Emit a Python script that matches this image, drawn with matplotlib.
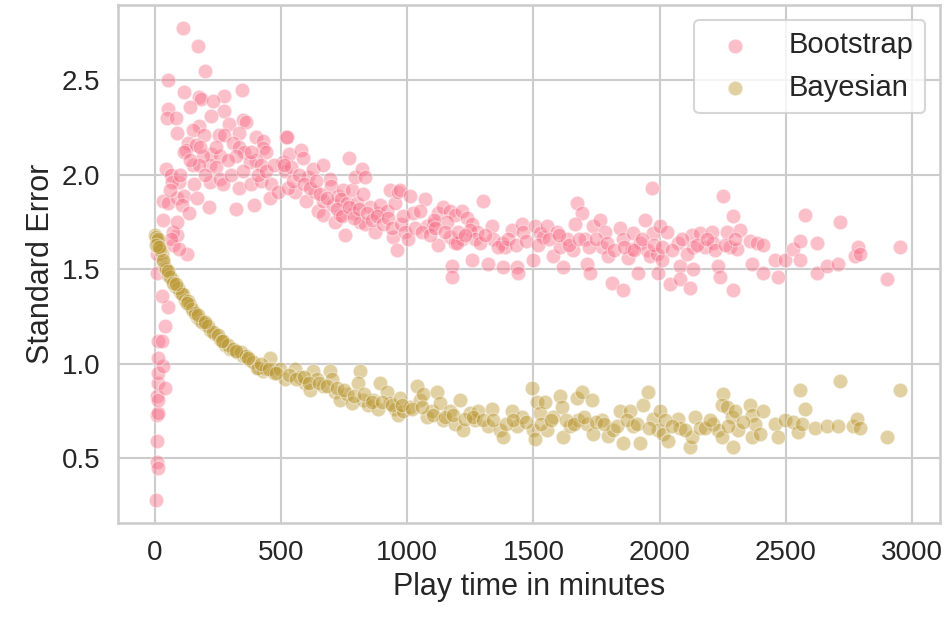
import matplotlib
matplotlib.use("Agg")
import matplotlib.pyplot as plt
import seaborn as sns

# Bootstrap standard error vs play time
boot_x = [
    4, 7, 12, 7, 7, 12, 7, 12, 12, 40, 12, 33, 12, 12, 27, 40, 53, 27, 7, 7,
    127, 73, 87, 73, 33, 87,
    109, 171, 199, 53, 115, 175, 182, 275, 343, 228, 138, 275, 53, 49, 82, 222,
    175, 149, 294, 347, 361, 89, 195, 254, 274, 334, 401, 427, 129, 123, 163, 309,
    222, 256, 216, 243, 334, 354, 321, 427, 441, 401, 375, 421, 521, 508, 515, 115,
    149, 189, 175, 43, 63, 96, 69, 156, 216, 256, 269, 334, 321, 394, 381, 421,
    461, 454, 488, 213, 33, 53, 87, 113, 107, 133, 167, 63, 93,
    60, 100, 140, 180, 200, 240, 290, 300, 350, 380, 410, 440, 470,
    524, 533, 580, 587, 540, 607, 627, 667, 767, 553, 527, 600, 633, 647, 667, 692,
    699, 666, 706, 726, 746, 739, 759, 779, 792, 819, 832, 712, 752, 732, 785, 812,
    832, 799, 825, 852, 872, 885, 892, 918, 931, 951, 964, 945, 958,
    510, 545, 570, 590, 615, 640, 655, 680, 720, 740, 770, 790, 810, 840, 860, 880,
    905, 925, 940, 975, 990,
    971, 1011, 1070, 984, 1024, 1050, 1077, 1103, 1123, 1143, 1169, 1189, 1216, 1235,
    1255, 1275, 1301, 1335, 1123, 1169, 1189, 1216, 1248, 1268, 1176, 1176, 1255, 1321,
    1341, 1374, 1387, 1381, 1434, 1440, 1414, 1453, 1460, 1499, 1506, 1526, 1539, 1552,
    1579, 1592, 1605, 1618, 1632, 1658, 1671, 1691, 1665, 1704, 1711, 1724, 1737, 1764,
    1770, 1784, 1797, 1810, 1843, 1856, 1856, 1876, 1889, 1896, 1916, 1922, 1942, 1949,
    1962, 1969, 1975, 1988, 1995, 1004, 1157, 1197, 1104,
    1030, 1060, 1090, 1110, 1150, 1200, 1230, 1290, 1310, 1360, 1400, 1430, 1470, 1520,
    1560, 1600, 1640, 1680, 1720, 1750, 1790, 1820, 1860, 1900, 1930, 1980,
    2002, 2028, 2008, 2041, 2074, 2081, 2081, 2120, 2127, 2134, 2134, 2160, 2180, 2207,
    2213, 2233, 2239, 2252, 2266, 2279, 2292, 2292, 2306, 2319, 2358, 2365, 2385, 2411,
    2411, 2457, 2470, 2497, 2530, 2556, 2556, 2576, 2623, 2623, 2662, 2708, 2715, 2774,
    2788, 2794, 2900, 2953,
    2010, 2050, 2090, 2110, 2150, 2190, 2220, 2260, 2300,
]
boot_y = [
    0.28, 0.48, 0.45, 0.59, 0.73, 0.74, 0.83, 0.81, 0.90, 0.87, 0.95, 0.99, 1.03, 1.12,
    1.12, 1.20, 1.30, 1.36, 1.48, 1.58,
    1.58, 1.63, 1.68, 1.70, 1.76, 1.75,
    2.78, 2.68, 2.55, 2.50, 2.44, 2.41, 2.40, 2.42, 2.45, 2.39, 2.36, 2.34, 2.35, 2.30,
    2.30, 2.31, 2.26, 2.24, 2.27, 2.29, 2.28, 2.22, 2.21, 2.21, 2.21, 2.22, 2.20, 2.18,
    2.17, 2.13, 2.16, 2.17, 2.11, 2.10, 2.05, 2.04, 2.15, 2.12, 2.10, 2.14, 2.12, 2.08,
    2.07, 2.05, 2.20, 2.07, 2.02, 2.12, 2.05, 2.10, 2.05, 2.03, 2.00, 1.96, 1.96, 1.95,
    1.96, 1.98, 1.95, 1.93, 1.82, 1.84, 1.95, 1.97, 1.95, 1.88, 1.91, 1.83, 1.86, 1.85,
    1.88, 1.89, 1.84, 1.80, 1.88, 1.66, 1.61,
    1.92, 2.00, 2.08, 2.15, 2.00, 2.15, 2.08, 2.00, 2.02, 2.12, 2.00, 2.02, 2.05,
    2.20, 2.11, 2.13, 2.09, 2.04, 1.99, 2.03, 2.05, 2.09, 1.91, 1.93, 1.86, 1.91, 1.81,
    1.79, 1.98, 1.94, 1.86, 1.84, 1.89, 1.92, 1.87, 1.85, 1.92, 1.99, 2.03, 1.99, 1.75,
    1.68, 1.79, 1.80, 1.75, 1.74, 1.85, 1.90, 1.83, 1.70, 1.80, 1.84, 1.81, 1.92, 1.85,
    1.91, 1.67, 1.60,
    2.05, 1.97, 2.00, 1.95, 1.93, 1.97, 1.90, 1.88, 1.82, 1.78, 1.83, 1.77, 1.82, 1.80,
    1.76, 1.78, 1.74, 1.77, 1.72, 1.74, 1.70,
    1.92, 1.89, 1.87, 1.78, 1.80, 1.81, 1.73, 1.74, 1.80, 1.83, 1.81, 1.79, 1.81, 1.77,
    1.74, 1.70, 1.86, 1.73, 1.63, 1.67, 1.64, 1.66, 1.71, 1.66, 1.52, 1.46, 1.55, 1.53,
    1.66, 1.64, 1.62, 1.51, 1.51, 1.48, 1.71, 1.74, 1.70, 1.55, 1.73, 1.69, 1.67, 1.73,
    1.57, 1.70, 1.62, 1.51, 1.66, 1.60, 1.85, 1.80, 1.74, 1.66, 1.53, 1.48, 1.73, 1.76,
    1.62, 1.70, 1.57, 1.43, 1.72, 1.66, 1.39, 1.56, 1.61, 1.69, 1.48, 1.64, 1.76, 1.60,
    1.57, 1.93, 1.69, 1.58, 1.48, 1.66, 1.75, 1.64, 1.76,
    1.72, 1.70, 1.68, 1.72, 1.70, 1.70, 1.68, 1.64, 1.68, 1.62, 1.66, 1.63, 1.65, 1.63,
    1.66, 1.68, 1.63, 1.66, 1.62, 1.66, 1.64, 1.60, 1.62, 1.60, 1.66, 1.63,
    1.73, 1.70, 1.55, 1.42, 1.64, 1.52, 1.45, 1.40, 1.68, 1.62, 1.50, 1.69, 1.62, 1.70,
    1.64, 1.52, 1.46, 1.89, 1.70, 1.62, 1.78, 1.39, 1.61, 1.71, 1.65, 1.53, 1.64, 1.63,
    1.48, 1.55, 1.46, 1.55, 1.61, 1.65, 1.55, 1.79, 1.64, 1.48, 1.52, 1.53, 1.75, 1.57,
    1.62, 1.58, 1.45, 1.62,
    1.62, 1.60, 1.66, 1.58, 1.63, 1.66, 1.60, 1.63, 1.66,
]

# Bayesian standard error vs play time
bayes_x = [
    0, 7, 13, 26, 33, 40, 53, 66, 79, 99, 112, 119, 139, 152, 165, 178, 198, 218,
    238, 258, 277, 297, 324, 350, 377, 403, 429, 456, 469,
    3, 10, 20, 45, 60, 90, 105, 130, 145, 160, 185, 210, 230, 250, 270, 290, 310, 340,
    360, 390, 410, 440, 470,
    5, 16, 30, 50, 70, 85, 125, 170, 200, 265, 320, 370, 420, 450,
    495, 515, 555, 575, 595, 614, 627, 641, 667, 694, 700, 713, 733, 760, 780, 812,
    806, 826, 845, 865, 892, 885, 918, 931, 951, 964,
    480, 530, 560, 590, 610, 650, 680, 720, 750, 790, 830, 860, 900, 940,
    971, 984, 1011, 1037, 1050, 1063, 1077, 1097, 1117, 1130, 1143, 1169, 1189, 1209,
    1222, 1248, 1268, 1281, 1321, 1335, 1367, 1381, 1414, 1434, 1453, 1493, 1499, 1506,
    1513, 1526, 1546, 1552, 1579, 1605, 1612, 1618, 1645, 1671, 1678, 1691, 1711, 1731,
    1737, 1770, 1797, 1817, 1843, 1856, 1883, 1896, 1922, 1935, 1955, 1975, 1995,
    980, 1020, 1060, 1100, 1150, 1180, 1230, 1260, 1300, 1340, 1390, 1420, 1470, 1530,
    1570, 1630, 1660, 1700, 1750, 1780, 1830, 1870, 1910, 1960,
    2002, 2015, 2034, 2074, 2081, 2120, 2127, 2140, 2160, 2213, 2233, 2246, 2252, 2246,
    2266, 2286, 2292, 2299, 2312, 2358, 2365, 2365, 2378, 2398, 2411, 2457, 2470, 2497,
    2530, 2556, 2550, 2563, 2576, 2616, 2662, 2708, 2715, 2768, 2781, 2794, 2900, 2955,
    2020, 2050, 2100, 2180, 2200, 2270, 2330,
]
bayes_y = [
    1.68, 1.65, 1.62, 1.58, 1.54, 1.51, 1.47, 1.45, 1.41, 1.38, 1.37, 1.34, 1.31, 1.28,
    1.25, 1.23, 1.21, 1.18, 1.16, 1.13, 1.10, 1.08, 1.06, 1.04, 1.02, 0.98, 0.96, 1.03,
    0.97,
    1.67, 1.66, 1.60, 1.50, 1.46, 1.40, 1.37, 1.33, 1.29, 1.27, 1.22, 1.20, 1.17, 1.15,
    1.12, 1.10, 1.08, 1.06, 1.04, 1.01, 0.98, 0.97, 0.95,
    1.63, 1.62, 1.55, 1.49, 1.43, 1.42, 1.32, 1.26, 1.22, 1.12, 1.07, 1.03, 1.00, 0.97,
    0.97, 0.92, 0.97, 0.93, 0.90, 0.86, 0.96, 0.92, 0.88, 0.96, 0.92, 0.85, 0.81, 0.84,
    0.79, 0.96, 0.90, 0.81, 0.78, 0.81, 0.90, 0.76, 0.85, 0.79, 0.76, 0.73,
    0.95, 0.94, 0.92, 0.93, 0.90, 0.90, 0.88, 0.87, 0.86, 0.83, 0.84, 0.80, 0.80, 0.78,
    0.82, 0.75, 0.77, 0.88, 0.81, 0.84, 0.72, 0.75, 0.85, 0.79, 0.70, 0.75, 0.68, 0.81,
    0.65, 0.74, 0.70, 0.75, 0.67, 0.76, 0.65, 0.61, 0.75, 0.67, 0.72, 0.87, 0.65, 0.60,
    0.80, 0.74, 0.80, 0.65, 0.72, 0.83, 0.77, 0.61, 0.67, 0.82, 0.70, 0.85, 0.68, 0.81,
    0.63, 0.70, 0.62, 0.65, 0.75, 0.58, 0.75, 0.67, 0.58, 0.78, 0.85, 0.71, 0.65,
    0.78, 0.76, 0.77, 0.73, 0.72, 0.73, 0.71, 0.72, 0.70, 0.70, 0.68, 0.70, 0.69, 0.68,
    0.70, 0.70, 0.68, 0.72, 0.69, 0.68, 0.67, 0.70, 0.68, 0.66,
    0.75, 0.63, 0.59, 0.71, 0.66, 0.56, 0.61, 0.72, 0.66, 0.68, 0.65, 0.61, 0.84, 0.78,
    0.77, 0.72, 0.56, 0.75, 0.65, 0.78, 0.73, 0.61, 0.68, 0.63, 0.75, 0.68, 0.61, 0.70,
    0.69, 0.86, 0.64, 0.68, 0.76, 0.66, 0.67, 0.67, 0.91, 0.67, 0.71, 0.66, 0.61, 0.86,
    0.70, 0.67, 0.65, 0.66, 0.70, 0.67, 0.69,
]

sns.set_theme(style="whitegrid", context="talk")
plt.rcParams['font.family'] = ['Liberation Sans', 'DejaVu Sans']

fig, ax = plt.subplots(figsize=(9.46, 6.18), dpi=100)
fig.subplots_adjust(left=0.1247, right=0.9937, top=0.992, bottom=0.1537)

pal = sns.color_palette("husl", 6)
ax.scatter(boot_x, boot_y, s=110, color=pal[0], alpha=0.45,
           edgecolors='white', linewidths=0.8, label='Bootstrap')
ax.scatter(bayes_x, bayes_y, s=110, color=pal[1], alpha=0.45,
           edgecolors='white', linewidths=0.8, label='Bayesian')

ax.set_xlim(-147, 3112)
ax.set_ylim(0.157, 2.90)
ax.set_xticks([0, 500, 1000, 1500, 2000, 2500, 3000])
ax.set_yticks([0.5, 1.0, 1.5, 2.0, 2.5])
ax.tick_params(labelsize=20)
ax.set_xlabel('Play time in minutes', fontsize=22)
ax.set_ylabel('Standard Error', fontsize=22)
ax.legend(loc='upper right', fontsize=21, handletextpad=0.85)

fig.savefig('out.png', dpi=100)
